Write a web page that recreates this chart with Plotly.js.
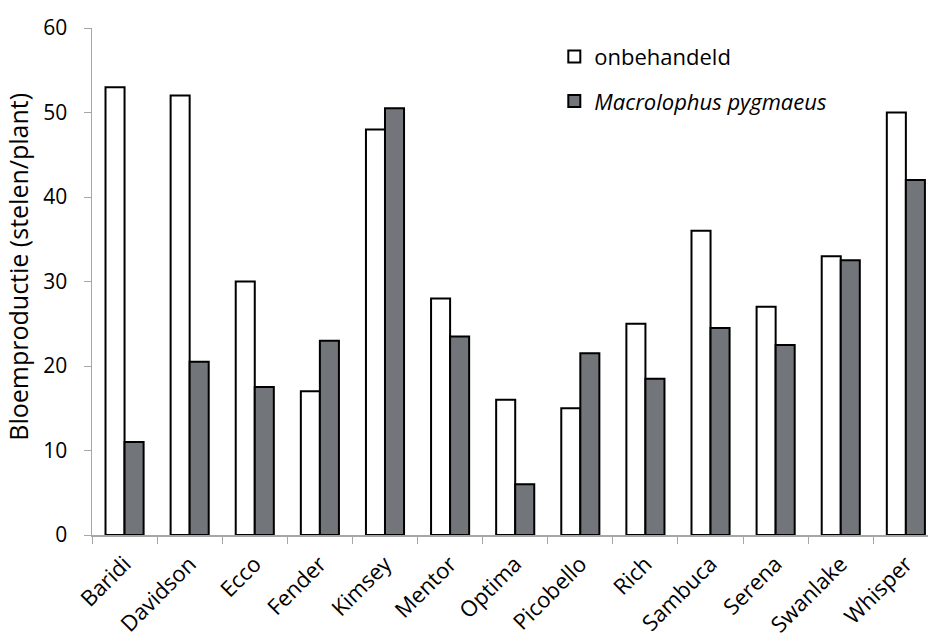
<!DOCTYPE html>
<html><head><meta charset="utf-8">
<script src="https://cdn.plot.ly/plotly-3.0.1.min.js"></script>
<style>body{margin:0;padding:0;background:#fff}#c{width:928px;height:641px}</style>
</head><body><div id="c"></div>
<script>
const categories = ["Baridi","Davidson","Ecco","Fender","Kimsey","Mentor","Optima","Picobello","Rich","Sambuca","Serena","Swanlake","Whisper"];
const onbehandeld = [53,52,30,17,48,28,16,15,25,36,27,33,50];
const macrolophus = [11,20.5,17.5,23,50.5,23.5,6,21.5,18.5,24.5,22.5,32.5,42];
const yTicks = [0,10,20,30,40,50,60];

const font = "Open Sans, Noto Sans, sans-serif";
const traces = [
  {type:"bar", x:categories, y:onbehandeld, name:"onbehandeld", legendgroup:"a",
   marker:{color:"#ffffff", line:{color:"#000000", width:2}}},
  {type:"bar", x:categories, y:macrolophus, name:"<i>Macrolophus pygmaeus</i>", legendgroup:"b",
   marker:{color:"#72767a", line:{color:"#000000", width:2}}}
];
const layout = {
  width:928, height:641,
  margin:{l:92, r:0, t:28, b:106, autoexpand:false},
  paper_bgcolor:"#fff", plot_bgcolor:"#fff",
  barmode:"group", bargap:0.415, bargroupgap:0,
  font:{family:font, size:21, color:"#000"},
  xaxis:{type:"category", range:[-0.5, 12.34], tickangle:-45, showgrid:false,
    showline:true, linecolor:"#a6a6a6", linewidth:1.5, ticks:"outside", tickson:"boundaries",
    ticklen:7, tickcolor:"#a6a6a6", tickfont:{size:22, family:font}, automargin:false,
    ticklabelstandoff:6},
  yaxis:{range:[0,60], tickvals:yTicks, showgrid:false, zeroline:false, automargin:false,
    showline:true, linecolor:"#a6a6a6", linewidth:1.5, ticks:"outside", ticklen:7,
    tickcolor:"#a6a6a6", tickfont:{size:21, family:font}, ticklabelstandoff:12},
  annotations:[{text:"Bloemproductie (stelen/plant)", xref:"paper", yref:"paper",
    x:-0.088, y:0.53, xanchor:"center", yanchor:"middle", textangle:-90, showarrow:false,
    font:{size:25, family:font}}],
  showlegend:true,
  legend:{x:0.553, y:0.985, xanchor:"left", yanchor:"top", font:{size:22, family:font},
    traceorder:"grouped", tracegroupgap:13, itemwidth:30, bgcolor:"rgba(0,0,0,0)"}
};
Plotly.newPlot("c", traces, layout, {displayModeBar:false, staticPlot:true});
</script></body></html>
